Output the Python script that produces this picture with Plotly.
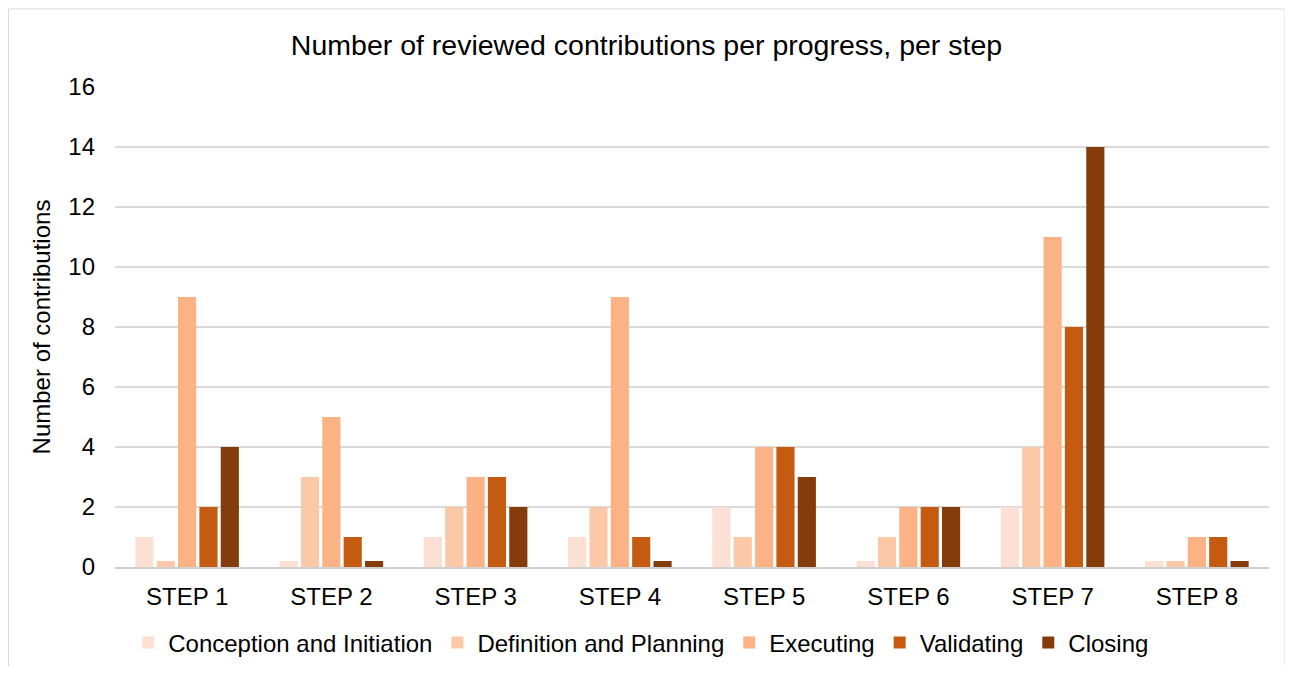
import plotly.graph_objects as go

steps = ["STEP 1", "STEP 2", "STEP 3", "STEP 4", "STEP 5", "STEP 6", "STEP 7", "STEP 8"]
conception = [1, 0.2, 1, 1, 2, 0.2, 2, 0.2]
definition = [0.2, 3, 2, 2, 1, 1, 4, 0.2]
executing = [9, 5, 3, 9, 4, 2, 11, 1]
validating = [2, 1, 3, 1, 4, 2, 8, 1]
closing = [4, 0.2, 2, 0.2, 3, 2, 14, 0.2]

series_names = ["Conception and Initiation", "Definition and Planning", "Executing", "Validating", "Closing"]
series_values = [conception, definition, executing, validating, closing]
colors = ["#FBE0D3", "#FCC9A8", "#FBB284", "#C55A11", "#843C0C"]

fig = go.Figure()
for name, vals, c in zip(series_names, series_values, colors):
    fig.add_trace(go.Bar(x=steps, y=vals, name=name, marker=dict(color=c, line=dict(width=0))))

# figure is offset 8px by page body margin
W, H = 1277, 658
L, R, T, B = 107, 16, 79, 99
pw, ph = W - L - R, H - T - B

fig.update_layout(
    width=W, height=H,
    paper_bgcolor="white", plot_bgcolor="white",
    font=dict(family="Liberation Sans, Arial, sans-serif", color="#000000"),
    title=dict(text="Number of reviewed contributions per progress, per step",
               x=0.5, xanchor="center", y=1 - 37 / H, yanchor="middle",
               font=dict(size=28.5, color="#000000")),
    margin=dict(l=L, r=R, t=T, b=B, autoexpand=False),
    barmode="group", bargap=0.26, bargroupgap=0.15,
    legend=dict(orientation="h", x=0.456, xanchor="center",
                yref="container", y=23 / H, yanchor="middle",
                font=dict(size=24), itemwidth=30, traceorder="normal"),
    xaxis=dict(showline=True, linecolor="#d0d0d0", linewidth=1.5, ticks="",
               tickfont=dict(size=24), ticklabelstandoff=7, showgrid=False),
    yaxis=dict(range=[0, 16], dtick=2, tickfont=dict(size=24), showgrid=True,
               gridcolor="#d9d9d9", gridwidth=1.5, zeroline=False, ticklabelstandoff=19,
               title=dict(text="Number of contributions", font=dict(size=24), standoff=10)),
    shapes=[dict(type="rect", xref="paper", yref="paper",
                 x0=(0.5 - L) / pw, x1=(1277 - L) / pw,
                 y0=-(B + 10) / ph, y1=(ph + T - 1) / ph,
                 line=dict(color="#d9d9d9", width=1), fillcolor="rgba(0,0,0,0)", layer="below")],
)

fig.write_html("out.html")
